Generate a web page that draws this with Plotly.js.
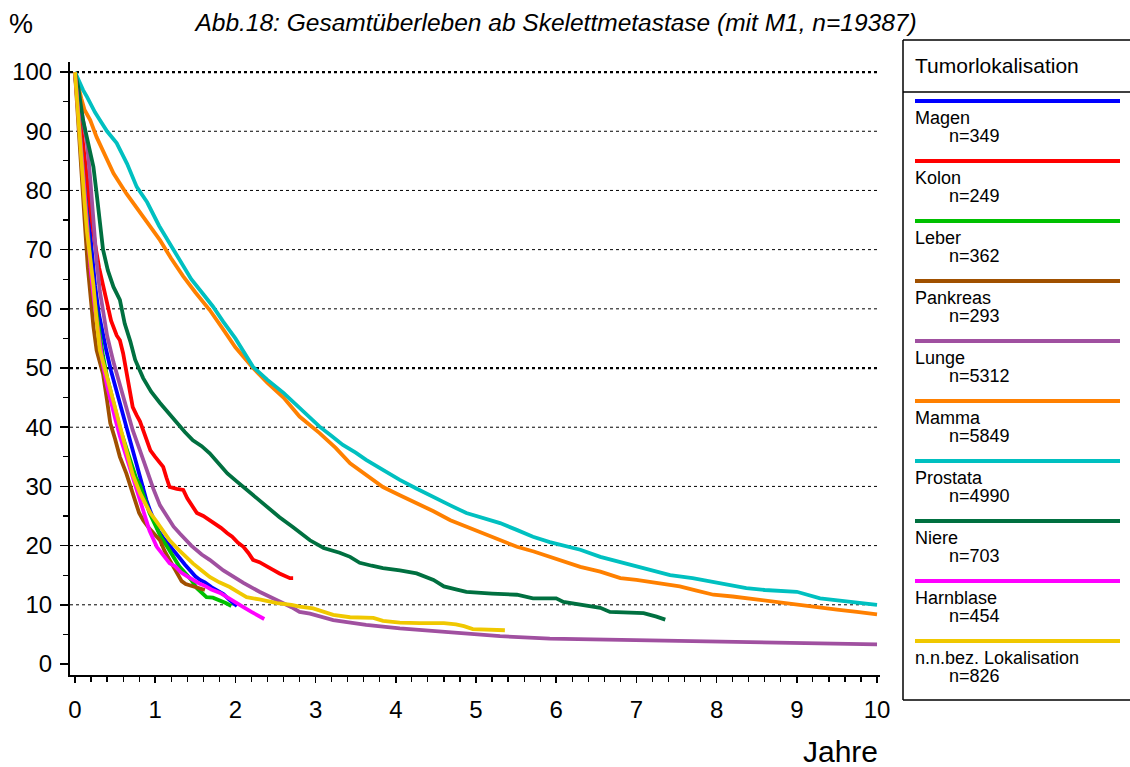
<!DOCTYPE html>
<html>
<head>
<meta charset="utf-8">
<script src="https://cdn.plot.ly/plotly-3.0.1.min.js"></script>
<style>html,body{margin:0;padding:0;background:#fff;overflow:hidden;}#chart{width:1130px;height:767px;}</style>
</head>
<body>
<div id="chart"></div>
<script>
// ---- Data ----
const names = ["Magen","Kolon","Leber","Pankreas","Lunge","Mamma","Prostata","Niere","Harnblase","n.n.bez. Lokalisation"];
const counts = ["n=349","n=249","n=362","n=293","n=5312","n=5849","n=4990","n=703","n=454","n=826"];
const colors = ["#0000ff","#ff0000","#00c000","#a05000","#a050a0","#ff8000","#00c0c0","#007040","#ff00ff","#f0c800"];

const magenT = [0,0.04,0.08,0.12,0.16,0.2,0.25,0.3,0.35,0.39,0.45,0.5,0.56,0.62,0.68,0.73,0.78,0.84,0.89,0.94,0.98,1.04,1.1,1.17,1.23,1.3,1.37,1.45,1.5,1.56,1.62,1.7,1.77,1.85,1.93,2.02];
const magenS = [100,94,88,82,76,70,64,59,55.5,53,49.5,47,44.6,41.5,38.5,36.1,33.5,30,27.7,25.8,24.3,22.5,21.3,20.2,19.3,18,16.8,15.5,14.8,14.2,13.8,13,12.5,11.8,10.8,9.8];

const kolonT = [0,0.04,0.08,0.12,0.16,0.2,0.25,0.3,0.35,0.39,0.45,0.52,0.56,0.6,0.64,0.68,0.72,0.77,0.81,0.85,0.9,0.94,1.0,1.06,1.1,1.14,1.18,1.27,1.35,1.4,1.45,1.52,1.6,1.68,1.75,1.82,1.9,1.96,2.03,2.1,2.16,2.22,2.3,2.38,2.47,2.55,2.62,2.68,2.72];
const kolonS = [100,95,90,85,80,76,71,67,64,61.5,58,55.5,54.7,52.5,49.2,46,43.4,42,41,39.5,37.5,36.1,35,34,33.3,31.5,29.9,29.6,29.4,28,27,25.5,25,24.3,23.8,23,22.1,21.5,20.5,19.8,18.8,17.6,17.2,16.5,15.9,15.3,14.8,14.5,14.5];

const leberT = [0,0.04,0.08,0.12,0.16,0.2,0.25,0.3,0.35,0.4,0.46,0.52,0.58,0.64,0.7,0.76,0.81,0.87,0.93,1.0,1.07,1.15,1.23,1.3,1.38,1.45,1.52,1.58,1.64,1.72,1.8,1.88,1.95];
const leberS = [100,93,86,79,73,67,61,56,52,48.5,45,42,39,36.5,33.5,31.5,30.2,28,25.5,23.5,21.5,19.8,18,16.5,15.3,14.2,12.8,12,11.3,11.2,10.8,10.3,9.8];

const pankreasT = [0,0.04,0.08,0.12,0.16,0.2,0.23,0.27,0.31,0.35,0.4,0.44,0.5,0.56,0.64,0.7,0.76,0.8,0.85,0.92,1.0,1.06,1.12,1.18,1.23,1.28,1.33,1.38,1.45,1.5,1.56,1.62];
const pankreasS = [100,91,83,75,67,61,57,53,51,49,44.5,40.7,38,35,32.2,29.5,27,25.5,24.3,23,21.8,20.9,19,17.5,16.4,15,14,13.5,13.2,13.1,12.8,12.5];

const lungeT = [0,0.04,0.08,0.12,0.15,0.19,0.23,0.27,0.31,0.35,0.4,0.48,0.56,0.64,0.72,0.81,0.9,0.98,1.06,1.15,1.23,1.31,1.45,1.58,1.68,1.85,2.0,2.1,2.3,2.52,2.7,2.8,2.93,3.22,3.63,4.05,4.47,4.88,5.3,5.92,6.3,7.0,7.54,8.0,8.5,9.0,9.5,10.0];
const lungeS = [100,97,94,91,88,82,73.8,68,63,59.5,55.5,51,47,43.4,39.5,36.1,32.5,29.5,26.8,24.8,23.2,22,20,18.5,17.6,15.8,14.5,13.7,12.2,10.8,9.6,8.8,8.5,7.4,6.6,6.0,5.6,5.2,4.7,4.3,4.2,4.0,3.8,3.7,3.6,3.5,3.4,3.3];

const mammaT = [0,0.04,0.08,0.12,0.19,0.27,0.35,0.48,0.64,0.8,0.95,1.06,1.2,1.35,1.5,1.68,1.85,2.0,2.22,2.4,2.6,2.8,3.05,3.25,3.43,3.64,3.84,4.05,4.26,4.47,4.68,4.88,5.09,5.3,5.51,5.72,5.92,6.1,6.3,6.55,6.8,7.0,7.2,7.54,7.75,7.96,8.2,8.37,8.6,8.79,9.0,9.29,9.5,9.75,10.0];
const mammaS = [100,97.5,95.5,93.6,91.9,89,86.8,82.9,79.5,76.5,73.5,71.6,68.5,65.5,62.8,59.8,56.5,53.5,50,47.5,45,41.8,39,36.5,33.9,31.8,29.9,28.5,27.2,25.8,24.3,23.2,22.1,20.9,19.8,19,18.1,17.2,16.4,15.6,14.5,14.2,13.8,13.1,12.4,11.7,11.4,11.1,10.7,10.3,10,9.5,9.2,8.8,8.4];

const prostataT = [0,0.03,0.06,0.1,0.15,0.19,0.25,0.31,0.4,0.52,0.65,0.77,0.9,1.05,1.18,1.31,1.45,1.58,1.72,1.85,2.0,2.22,2.4,2.6,2.8,3.05,3.2,3.34,3.5,3.63,3.85,4.05,4.25,4.47,4.68,4.88,5.1,5.3,5.5,5.71,5.92,6.13,6.3,6.55,6.77,7.0,7.2,7.42,7.7,7.96,8.2,8.37,8.6,8.8,9.0,9.29,9.5,9.75,10.0];
const prostataS = [100,99,98.3,97,95.8,94.7,93.2,91.9,90,88,84.5,80.6,78,74,71,68,65,62.8,60.4,57.8,55,50.2,48,45.8,43.2,40.1,38.5,37,35.7,34.5,32.7,31.1,29.7,28.3,26.8,25.5,24.6,23.8,22.7,21.5,20.6,19.8,19.3,18.1,17.3,16.5,15.8,15,14.5,13.9,13.3,12.8,12.5,12.3,12.2,11.1,10.8,10.4,10];

const niereT = [0,0.04,0.1,0.17,0.23,0.27,0.31,0.35,0.41,0.48,0.56,0.62,0.69,0.75,0.85,0.95,1.06,1.16,1.27,1.37,1.47,1.58,1.68,1.8,1.9,2.02,2.14,2.26,2.39,2.55,2.72,2.8,2.93,3.1,3.3,3.43,3.55,3.7,3.84,4.05,4.26,4.47,4.6,4.75,4.88,5.2,5.51,5.71,6.0,6.09,6.3,6.55,6.67,6.9,7.09,7.25,7.36];
const niereS = [100,97.5,91.9,87.3,84,79.5,74,70,66.5,63.7,61.5,57.5,54.5,51.4,48.3,46,44.1,42.5,40.7,39.2,37.8,36.8,35.6,33.8,32.2,30.8,29.4,28,26.5,24.8,23.1,22.3,20.9,19.6,18.8,18.1,17.1,16.6,16.2,15.8,15.3,14.2,13.1,12.6,12.2,11.9,11.7,11.1,11.1,10.5,10.1,9.5,8.8,8.7,8.6,8.0,7.5];

const harnblaseT = [0,0.04,0.08,0.12,0.16,0.2,0.25,0.3,0.35,0.4,0.44,0.5,0.56,0.64,0.7,0.76,0.81,0.87,0.93,1.02,1.1,1.18,1.25,1.32,1.4,1.47,1.55,1.62,1.7,1.81,1.9,2.0,2.1,2.2,2.31,2.36];
const harnblaseS = [100,93,86,79,72,66,60,55,50.5,47,44.6,41.5,38.5,35,32.5,30,27.7,25,22.5,19.8,18.3,17,16.5,15.5,14.8,14.2,13.6,13.2,12.6,12,11.2,10.5,9.6,8.8,7.9,7.6];

const nnbezT = [0,0.04,0.08,0.12,0.15,0.19,0.23,0.27,0.31,0.35,0.4,0.48,0.56,0.64,0.72,0.81,0.88,0.94,1.02,1.1,1.18,1.3,1.4,1.47,1.58,1.68,1.8,1.93,2.05,2.14,2.3,2.52,2.7,2.8,2.97,3.1,3.22,3.43,3.72,3.84,4.05,4.3,4.6,4.75,4.85,4.96,5.2,5.36];
const nnbezS = [100,92,85,78,73,69,64,58,53,51,48.5,44.6,40,36.1,32,28.9,27,25.5,24,22.5,20.9,19.2,17.8,17,15.8,14.7,13.8,13,12,11.3,10.9,10.3,10,9.7,9.4,8.9,8.3,7.9,7.8,7.3,7.0,6.9,6.9,6.7,6.4,5.9,5.8,5.7];

const seriesT = [magenT,kolonT,leberT,pankreasT,lungeT,mammaT,prostataT,niereT,harnblaseT,nnbezT];
const seriesS = [magenS,kolonS,leberS,pankreasS,lungeS,mammaS,prostataS,niereS,harnblaseS,nnbezS];

const yTicks = [0,10,20,30,40,50,60,70,80,90,100];
const xTicks = [0,1,2,3,4,5,6,7,8,9,10];
const gridVals = [10,20,30,40,50,60,70,80,90,100];
const boldGrid = [50,100];

// ---- Geometry helpers (plot area pixels) ----
const W = 1130, H = 767;
const M = {l:70, r:250, t:62, b:92};
const PW = W - M.l - M.r, PH = H - M.t - M.b;
const px = x => (x - M.l) / PW;
const py = y => (H - M.b - y) / PH;

const FONT = "Liberation Sans, Arial, sans-serif";

const traces = names.map((n,i) => ({
  type:'scatter', mode:'lines', name:n,
  x: seriesT[i], y: seriesS[i],
  line:{color:colors[i], width:3.8, shape:'linear'},
  showlegend:false, hoverinfo:'x+y+name'
}));

const shapes = [];
const annotations = [];

// grid lines
gridVals.forEach(v => {
  shapes.push({type:'line', xref:'paper', yref:'y', x0:0, x1:1, y0:v, y1:v,
    line:{color:'#000', width: boldGrid.includes(v) ? 2.2 : 1, dash:'dot'}, layer:'below'});
});

// legend box (open on the right: it runs past the picture edge)
const bx0 = px(903), bx1 = px(1160), by0 = py(700), by1 = py(40);
const boxLine = {color:'#000', width:1.5};
shapes.push({type:'line', xref:'paper', yref:'paper', x0:bx0, x1:bx1, y0:by1, y1:by1, line:boxLine});
shapes.push({type:'line', xref:'paper', yref:'paper', x0:bx0, x1:bx0, y0:by0, y1:by1, line:boxLine});
shapes.push({type:'line', xref:'paper', yref:'paper', x0:bx0, x1:bx1, y0:by0, y1:by0, line:boxLine});
shapes.push({type:'line', xref:'paper', yref:'paper', x0:bx0, x1:bx1, y0:py(92), y1:py(92), line:boxLine});
annotations.push({xref:'paper', yref:'paper', x:px(913), y:py(65), text:'Tumorlokalisation', showarrow:false, xanchor:'left', yanchor:'middle', font:{family:FONT, size:21, color:'#000'}});
names.forEach((n,i) => {
  const ly = 101 + 60*i;
  shapes.push({type:'line', xref:'paper', yref:'paper', x0:px(915), x1:px(1120), y0:py(ly), y1:py(ly), line:{color:colors[i], width:4}});
  annotations.push({xref:'paper', yref:'paper', x:px(913), y:py(ly+17), text:n, showarrow:false, xanchor:'left', yanchor:'middle', font:{family:FONT, size:18, color:'#000'}});
  annotations.push({xref:'paper', yref:'paper', x:px(947), y:py(ly+35), text:counts[i], showarrow:false, xanchor:'left', yanchor:'middle', font:{family:FONT, size:18, color:'#000'}});
});

// axis labels
annotations.push({xref:'paper', yref:'paper', x:px(21), y:py(24), text:'%', showarrow:false, xanchor:'center', yanchor:'middle', font:{family:FONT, size:27, color:'#000'}});
annotations.push({xref:'paper', yref:'paper', x:px(840), y:py(751), text:'Jahre', showarrow:false, xanchor:'center', yanchor:'middle', font:{family:FONT, size:30, color:'#000'}});

const layout = {
  width:W, height:H,
  margin:M,
  paper_bgcolor:'#fff', plot_bgcolor:'#fff',
  title:{text:'<i>Abb.18: Gesamtüberleben ab Skelettmetastase (mit M1, n=19387)</i>', x:556/W, xanchor:'center', y:1-22/H, yanchor:'middle', font:{family:FONT, size:24.5, color:'#000'}},
  xaxis:{range:[-0.062, 10.037], tickvals:xTicks, ticktext:xTicks.map(String), ticks:'outside', ticklen:6, tickwidth:1.5, tickcolor:'#000',
    minor:{dtick:0.2, tick0:0, ticks:'outside', ticklen:5, tickwidth:1.2, tickcolor:'#000', showgrid:false},
    showline:true, linecolor:'#000', linewidth:2, showgrid:false, zeroline:false, ticklabelstandoff:6,
    tickfont:{family:FONT, size:24, color:'#000'}, fixedrange:true},
  yaxis:{range:[-1.86, 101.7], tickvals:yTicks, ticktext:yTicks.map(String), ticks:'outside', ticklen:8, tickwidth:1.5, tickcolor:'#000',
    minor:{dtick:5, tick0:0, ticks:'outside', ticklen:5, tickwidth:1.2, tickcolor:'#000', showgrid:false},
    showline:true, linecolor:'#000', linewidth:2, showgrid:false, zeroline:false, ticklabelstandoff:3,
    tickfont:{family:FONT, size:24, color:'#000'}, fixedrange:true},
  shapes:shapes, annotations:annotations, showlegend:false
};

Plotly.newPlot('chart', traces, layout, {displayModeBar:false, staticPlot:true});
</script>
</body>
</html>
